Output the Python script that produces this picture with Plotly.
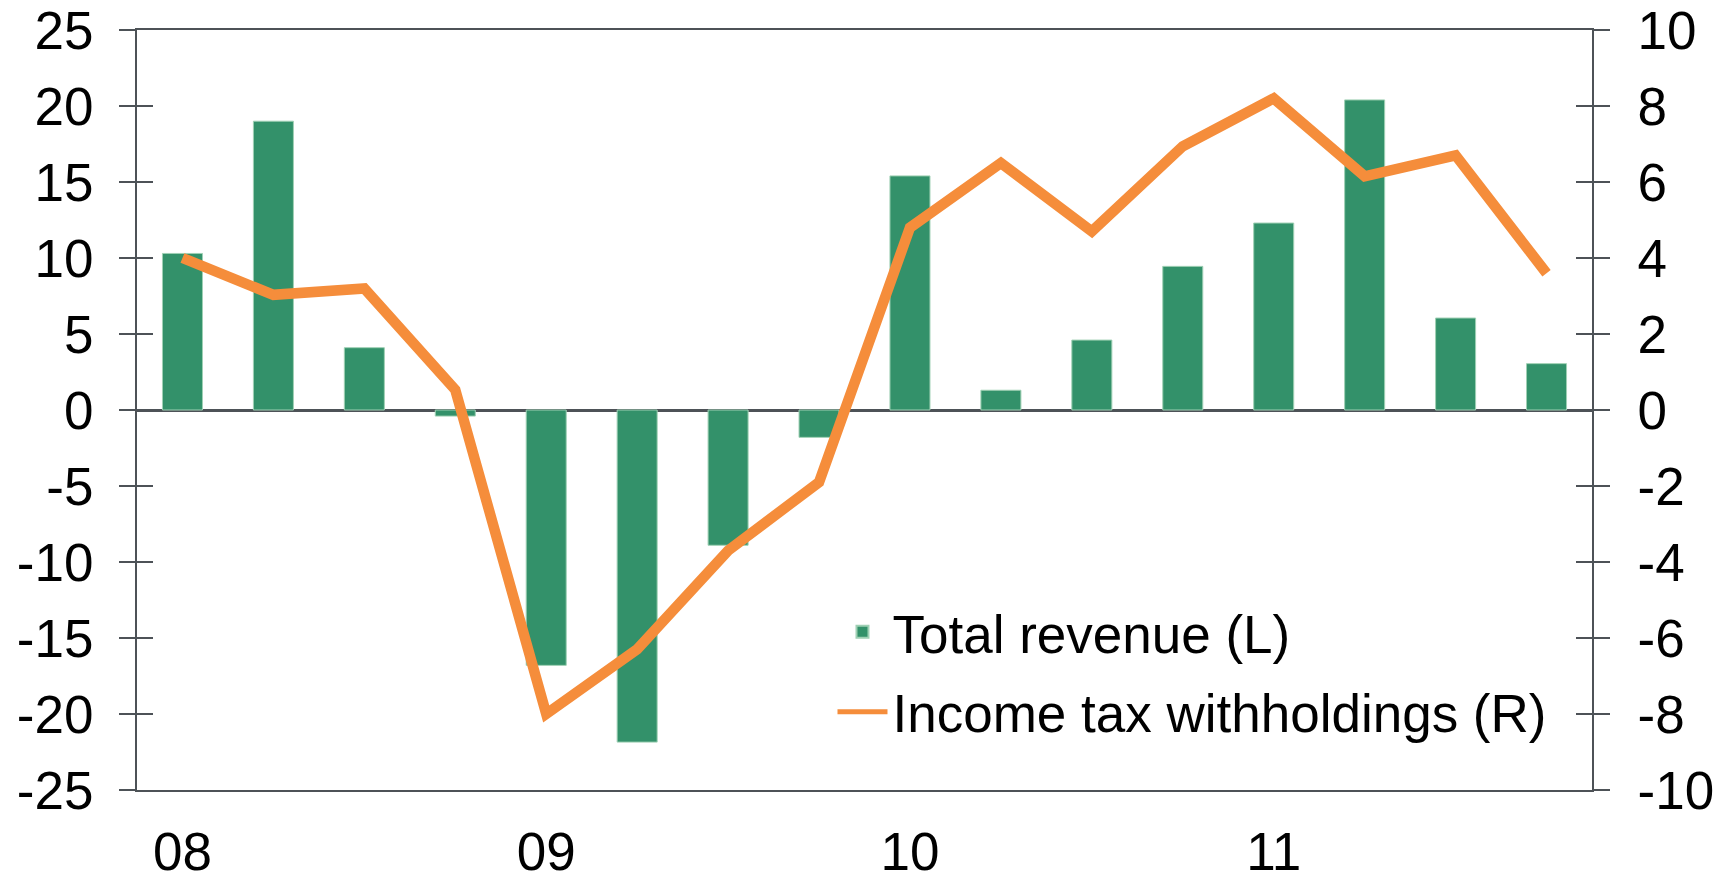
import plotly.graph_objects as go

quarters = ["08Q1", "08Q2", "08Q3", "08Q4", "09Q1", "09Q2", "09Q3", "09Q4",
            "10Q1", "10Q2", "10Q3", "10Q4", "11Q1", "11Q2", "11Q3", "11Q4"]
total_revenue = [10.3, 19.0, 4.1, -0.4, -16.8, -21.85, -8.9, -1.8,
                 15.4, 1.3, 4.6, 9.45, 12.3, 20.4, 6.05, 3.05]
income_tax_withholdings = [4.0, 3.03, 3.2, 0.53, -8.0, -6.3, -3.7, -1.9,
                           4.8, 6.5, 4.7, 6.94, 8.2, 6.15, 6.7, 3.6]
xtick_vals = ["08Q1", "09Q1", "10Q1", "11Q1"]
xtick_text = ["08", "09", "10", "11"]
left_ticks = [-25, -20, -15, -10, -5, 0, 5, 10, 15, 20, 25]
left_labels = ["-25", "-20", "-15", "-10", "-5", "0", "5", "10", "15", "20", "25"]
right_ticks = [-10, -8, -6, -4, -2, 0, 2, 4, 6, 8, 10]
right_labels = ["-10", "-8", "-6", "-4", "-2", "0", "2", "4", "6", "8", "10"]

AX = "#4d5257"
FONT = "Liberation Sans, Arial, sans-serif"
FS = 53

fig = go.Figure()
fig.add_trace(go.Bar(
    x=quarters, y=total_revenue, name="Total revenue (L)",
    marker=dict(color="#33916a", line=dict(color="#9fd0b4", width=1)),
    yaxis="y", legendgroup="a",
))
fig.add_trace(go.Scatter(
    x=quarters, y=income_tax_withholdings, name="Income tax withholdings (R)",
    mode="lines", line=dict(color="#f58d3b", width=10.5),
    yaxis="y2", legendgroup="b",
))
# empty helper traces so the inner-tick axes are drawn
fig.add_trace(go.Scatter(x=[quarters[0]], y=[None], yaxis="y3",
                         showlegend=False, hoverinfo="skip", mode="lines"))
fig.add_trace(go.Scatter(x=[quarters[0]], y=[None], yaxis="y4",
                         showlegend=False, hoverinfo="skip", mode="lines"))

fig.update_layout(
    width=1719, height=871,
    margin=dict(l=129, r=135, t=22, b=89),
    paper_bgcolor="white", plot_bgcolor="white",
    font=dict(family=FONT, size=FS, color="black"),
    bargap=0.56,
    showlegend=True,
    legend=dict(x=0.478, y=0.262, xanchor="left", yanchor="top",
                bgcolor="rgba(0,0,0,0)", font=dict(size=FS, family=FONT),
                itemwidth=50, traceorder="grouped", tracegroupgap=8,
                itemsizing="constant"),
    xaxis=dict(
        type="category", range=[-0.5, 15.5], automargin=False,
        tickmode="array", tickvals=xtick_vals, ticktext=xtick_text,
        showline=True, linecolor=AX, linewidth=2, mirror=True,
        ticks="", showgrid=False, zeroline=False,
        ticklabelstandoff=14, ticklabeloverflow="allow",
        tickfont=dict(size=FS, family=FONT, color="black"),
    ),
    yaxis=dict(
        range=[-25, 25], tickmode="array", tickvals=left_ticks, ticktext=left_labels,
        automargin=False,
        showline=True, linecolor=AX, linewidth=2,
        ticks="outside", ticklen=16, tickwidth=2, tickcolor=AX,
        showgrid=False, zeroline=True, zerolinecolor=AX, zerolinewidth=2.5,
        ticklabelstandoff=15, ticklabeloverflow="allow",
        tickfont=dict(size=FS, family=FONT, color="black"),
    ),
    yaxis2=dict(
        range=[-10, 10], tickmode="array", tickvals=right_ticks, ticktext=right_labels,
        automargin=False,
        overlaying="y", side="right", anchor="x",
        showline=True, linecolor=AX, linewidth=2,
        ticks="outside", ticklen=16, tickwidth=2, tickcolor=AX,
        showgrid=False, zeroline=False,
        ticklabelstandoff=17, ticklabeloverflow="allow",
        tickfont=dict(size=FS, family=FONT, color="black"),
    ),
    yaxis3=dict(
        range=[-25, 25], tickmode="array", tickvals=left_ticks,
        automargin=False,
        overlaying="y", side="left", anchor="x",
        showline=False, ticks="inside", ticklen=16, tickwidth=2, tickcolor=AX,
        showticklabels=False, showgrid=False, zeroline=False,
    ),
    yaxis4=dict(
        range=[-10, 10], tickmode="array", tickvals=right_ticks,
        automargin=False,
        overlaying="y", side="right", anchor="x",
        showline=False, ticks="inside", ticklen=16, tickwidth=2, tickcolor=AX,
        showticklabels=False, showgrid=False, zeroline=False,
    ),
)

fig.write_html("out.html")
